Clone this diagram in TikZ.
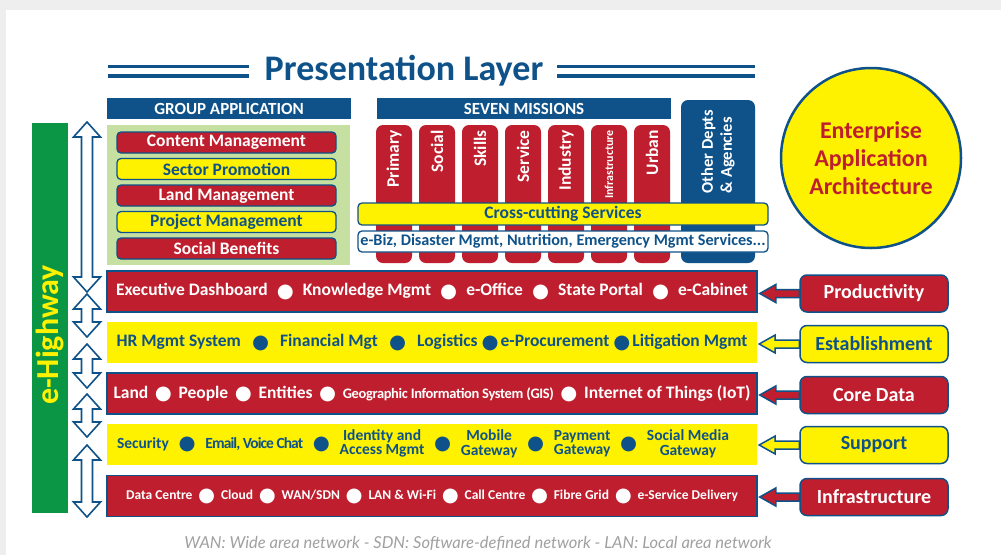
\documentclass[tikz,border=0pt]{standalone}
\usepackage{fontspec}
\setmainfont{Carlito}
\newfontfamily\bulfont{DejaVu Sans}
\newfontfamily\notefont{Lato}
\usetikzlibrary{calc}

\definecolor{navy}{RGB}{14,82,137}
\definecolor{appred}{RGB}{190,30,45}
\definecolor{appyellow}{RGB}{255,242,0}
\definecolor{hwgreen}{RGB}{11,150,70}
\definecolor{grpgreen}{RGB}{197,224,160}
\definecolor{bggray}{RGB}{238,238,238}
\definecolor{notegray}{RGB}{160,160,160}

\newcommand\fs[1]{\fontsize{#1}{#1}\selectfont}
\newcommand\bul{\raisebox{-1.2pt}{\bulfont\fs{19.5}\char"25CF}}
\newcommand\twoline[2]{{\def\arraystretch{0.85}\begin{tabular}{@{}c@{}}#1\\#2\end{tabular}}}

% vertical e-highway arrows: top y, bottom y
\newcommand\hwarrow[2]{%
  \draw[hwarrow] (87,#1) -- (100.5,#1+15) -- (92.5,#1+15) -- (92.5,#2-15)
    -- (100.5,#2-15) -- (87,#2) -- (73.5,#2-15) -- (81.5,#2-15)
    -- (81.5,#1+15) -- (73.5,#1+15) -- cycle;}
% arrow from a side label into its row
\newcommand\sidearrow[3]{%
  \path let \p1=(#2.east), \p2=(#1.west) in
    [sidearrow, fill=#3] (\x1+2pt,\y2) -- (\x1+18pt,\y2+9pt) -- (\x1+18pt,\y2+4pt)
    -- (\x2,\y2+4pt) -- (\x2,\y2-4pt) -- (\x1+18pt,\y2-4pt) -- (\x1+18pt,\y2-9pt) -- cycle;}

\tikzset{
  hdrbar/.style={fill=navy, text=white, font=\bfseries\fs{17}, minimum height=21pt, inner sep=0pt},
  grpitem/.style={draw=navy, line width=1.3pt, rounded corners=4pt, minimum width=219pt,
    minimum height=21pt, inner sep=0pt, font=\bfseries\fs{17.5}},
  redfill/.style={fill=appred, text=white},
  yelfill/.style={fill=appyellow, text=navy},
  misscol/.style={fill=appred, rounded corners=7pt, minimum width=36pt, minimum height=138pt, inner sep=0pt},
  misstext/.style={rotate=90, anchor=east, text=white, inner sep=0pt, font=\bfseries\fs{17.5}},
  rowbox/.style={minimum width=650pt, minimum height=41pt, inner sep=0pt},
  sidelabel/.style={draw=navy, line width=1.5pt, rounded corners=7pt, minimum width=148pt,
    minimum height=37pt, inner sep=0pt, font=\bfseries\fs{20}},
  hwarrow/.style={draw=navy, fill=white, line width=1.6pt, line join=miter},
  sidearrow/.style={draw=navy, line width=1.5pt, line join=miter},
}

\begin{document}
\begin{tikzpicture}[x=1pt, y=-1pt]
\useasboundingbox (0,0) rectangle (1001,555);
\fill[bggray] (0,0) rectangle (1001,555);
\fill[white] (6,10) rectangle (1001,555);

% title
\node[anchor=base, text=navy, font=\bfseries\fs{36}] (title) at (404,80) {Presentation Layer};
\foreach \ly in {66.5,76} {
  \draw[navy, line width=3.2pt] (108,\ly) -- (249,\ly);
  \draw[navy, line width=3.2pt] (557,\ly) -- (755,\ly);
}

% group application
\node[hdrbar, minimum width=244pt] (grphdr) at (229,108.5) {GROUP APPLICATION};
\fill[grpgreen] (107,125) rectangle (350,265);
\foreach \txt/\sty [count=\i from 0] in {Content Management/redfill, Sector Promotion/yelfill,
    Land Management/redfill, Project Management/yelfill, Social Benefits/redfill}
  \node[grpitem, \sty] (grp\i) at (226.5,142.5+26.5*\i) {\txt};

% seven missions
\node[hdrbar, minimum width=294pt] (mishdr) at (524,108.5) {SEVEN MISSIONS};
\foreach \txt [count=\i from 0] in {Primary, Social, Skills, Service, Industry, {\fs{12}Infrastructure}, Urban} {
  \node[misscol] (mis\i) at (394+43*\i,194) {};
  \node[misstext] (mistxt\i) at (394+43*\i,130) {\txt};
}
\node[fill=navy, rounded corners=7pt, minimum width=74pt, minimum height=163pt] (depts) at (718,181.5) {};
\node[rotate=90, anchor=west, align=left, text=white, inner sep=0pt, font=\bfseries\fontsize{16.5}{19}\selectfont]
  (deptstxt) at (718,193.5) {Other Depts\\\phantom{\&}\llap{\&} Agencies};
\node[draw=navy, line width=1.3pt, fill=appyellow, text=navy, rounded corners=4pt, minimum width=410pt,
  minimum height=22pt, inner sep=0pt, font=\bfseries\fs{17.5}] (cross) at (563,214) {Cross-cutting Services};
\node[draw=navy, line width=1.3pt, fill=white, text=navy, rounded corners=4pt, minimum width=410pt,
  minimum height=21pt, inner sep=0pt, font=\bfseries\fs{16.2}] (ebiz) at (563,241.5)
  {e-Biz, Disaster Mgmt, Nutrition, Emergency Mgmt Services...};

% enterprise circle
\node[circle, draw=navy, line width=2.5pt, fill=appyellow, minimum size=180pt, align=center,
  text=appred, font=\bfseries\fs{24}, inner sep=0pt] (eaa) at (871,158)
  {Enterprise\\[4pt]Application\\[4pt]Architecture};

% e-highway
\fill[hwgreen] (32,123) rectangle (68,513);
\node[rotate=90, text=appyellow, font=\bfseries\fs{32}] (ehw) at (50,335) {e-Highway};
\hwarrow{122}{292}
\hwarrow{294}{337}
\hwarrow{344}{388}
\hwarrow{394}{437}
\hwarrow{445}{517}

% layers
\node[rowbox, redfill, draw=navy, line width=1.5pt, font=\bfseries\fs{17.5}] (prodrow) at (432,291.5)
  {\hbox to 632pt{Executive Dashboard\hfill\bul\hfill Knowledge Mgmt\hfill\bul\hfill e-Office\hfill\bul\hfill State Portal\hfill\bul\hfill e-Cabinet}};
\node[rowbox, yelfill, font=\bfseries\fs{17.5}] (estrow) at (432,342.5)
  {\hbox to 631pt{HR Mgmt System\hfill\bul\hfill Financial Mgt\hfill\bul\hfill Logistics~\bul\kern2pt e-Procurement~\bul\kern2pt Litigation Mgmt}};
\node[rowbox, redfill, draw=navy, line width=1.5pt, font=\bfseries\fs{17.5}] (corerow) at (432,393.5)
  {\hbox to 637pt{Land\hfill\bul\hfill People\hfill\bul\hfill Entities\hfill\bul\hfill{\fs{14.5}\addfontfeature{LetterSpace=-2.5}Geographic Information System (GIS)}\hfill\bul\hfill Internet of Things (IoT)}};
\node[rowbox, yelfill, font=\bfseries\fs{15.5}] (suprow) at (432,444.5)
  {\hbox to 650pt{\hskip10pt\hbox to 612pt{Security\hfill\bul\hfill{\addfontfeature{LetterSpace=-6}Email, Voice Chat}\hfill\bul\hfill\twoline{Identity and}{Access Mgmt}\hfill\bul\hfill\twoline{Mobile}{Gateway}\hfill\bul\hfill\twoline{Payment}{Gateway}\hfill\bul\hfill\twoline{Social Media}{Gateway}}\hfil}};
\node[rowbox, redfill, draw=navy, line width=1.5pt, font=\bfseries\fs{13.5}] (infrow) at (432,496)
  {\hbox to 612pt{Data Centre\hfill\bul\hfill Cloud\hfill\bul\hfill WAN/SDN\hfill\bul\hfill LAN \& Wi-Fi\hfill\bul\hfill Call Centre\hfill\bul\hfill Fibre Grid\hfill\bul\hfill e-Service Delivery}};

% side labels and their arrows
\node[sidelabel, redfill] (prodlbl) at (874,293.5) {Productivity};
\node[sidelabel, yelfill] (estlbl) at (874,344) {Establishment};
\node[sidelabel, redfill] (corelbl) at (874,395) {Core Data};
\node[sidelabel, yelfill] (suplbl) at (874,445) {Support};
\node[sidelabel, redfill] (inflbl) at (874,497) {Infrastructure};
\sidearrow{prodlbl}{prodrow}{appred}
\sidearrow{estlbl}{estrow}{appyellow}
\sidearrow{corelbl}{corerow}{appred}
\sidearrow{suplbl}{suprow}{appyellow}
\sidearrow{inflbl}{infrow}{appred}

% footnote
\node[text=notegray, font=\notefont\itshape\fs{16.5}] (note) at (478,543)
  {WAN: Wide area network - SDN: Software-defined network - LAN: Local area network};
\end{tikzpicture}
\end{document}
